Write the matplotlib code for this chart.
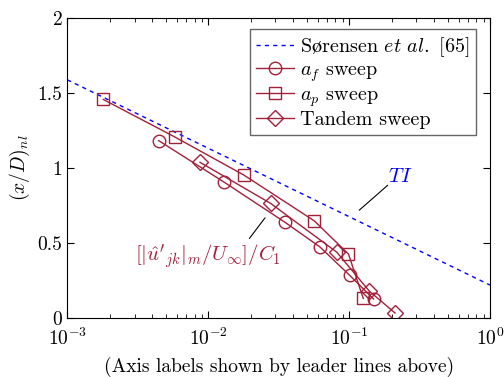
import numpy as np
import matplotlib.pyplot as plt

plt.rcParams['font.family'] = ['cmr10', 'DejaVu Serif']
plt.rcParams['mathtext.fontset'] = 'cm'
plt.rcParams['axes.formatter.use_mathtext'] = True

# data
af_x = [4.45e-3, 1.3e-2, 3.5e-2, 6.2e-2, 0.101, 0.149]
af_y = [1.183, 0.905, 0.638, 0.473, 0.283, 0.125]

ap_x = [1.8e-3, 5.8e-3, 1.79e-2, 5.66e-2, 0.099, 0.126]
ap_y = [1.458, 1.207, 0.953, 0.647, 0.425, 0.129]

tan_x = [8.75e-3, 2.78e-2, 8.17e-2, 0.139, 0.212]
tan_y = [1.038, 0.763, 0.438, 0.178, 0.031]

sor_x = [1e-3, 1.0]
sor_y = [1.589, 0.218]

red = '#a3203a'

fig = plt.figure(figsize=(5.04, 3.77), dpi=100)
ax = fig.add_axes([67.3/504, 1-317.7/377, (490-67.3)/504, (317.7-18.3)/377])

ax.plot(sor_x, sor_y, '--', color='blue', lw=1, dashes=(3, 3),
        label=r'$\mathrm{S\o rensen}$ $\it{et\ al.}$ $\it{[65]}$')
ax.plot(af_x, af_y, '-o', color=red, lw=1, ms=9, mfc='none', mew=1, label=r'$a_f$ sweep')
ax.plot(ap_x, ap_y, '-s', color=red, lw=1, ms=8, mfc='none', mew=1, label=r'$a_p$ sweep')
ax.plot(tan_x, tan_y, '-D', color=red, lw=1, ms=8, mfc='none', mew=1, label='Tandem sweep')

ax.set_xscale('log')
ax.set_xlim(1e-3, 1)
ax.set_ylim(0, 2)
ax.set_yticks([0, 0.5, 1, 1.5, 2])
ax.set_yticklabels(['0', '0.5', '1', '1.5', '2'])
ax.tick_params(which='both', direction='in', top=True, right=True, labelsize=14)
ax.tick_params(which='major', length=5)
ax.tick_params(which='minor', length=3)
ax.tick_params(axis='x', pad=7)

ax.set_ylabel(r'$(x/D)_{nl}$', fontsize=14)
ax.set_xlabel('(Axis labels shown by leader lines above)', fontsize=14, labelpad=6)

leg = ax.legend(loc='upper right', bbox_to_anchor=(0.967, 0.964), borderaxespad=0,
                fontsize=14.5, fancybox=False, edgecolor='0.4',
                handlelength=1.9, labelspacing=0.12,
                borderpad=0.3, handletextpad=0.3, framealpha=1)
leg.get_frame().set_linewidth(1)

# leader lines and their labels
ax.annotate('', xy=(0.118, 0.718), xytext=(0.188, 0.885),
            arrowprops=dict(arrowstyle='-', color='black', lw=0.8, shrinkA=0, shrinkB=0))
ax.text(0.19, 0.94, r'$TI$', color='blue', fontsize=15, ha='left', va='center')

ax.annotate('', xy=(0.0253, 0.667), xytext=(0.0196, 0.529),
            arrowprops=dict(arrowstyle='-', color='black', lw=0.8, shrinkA=0, shrinkB=0))
ax.text(0.00997, 0.405, r"$[|\hat{u}'_{jk}|_m/U_\infty]/C_1$", color=red, fontsize=15,
        ha='center', va='center')

fig.savefig('out.png')
